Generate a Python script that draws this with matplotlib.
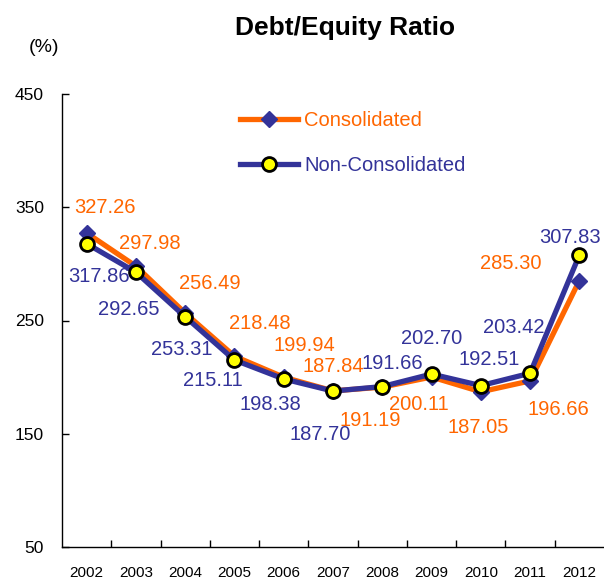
import matplotlib.pyplot as plt
from matplotlib.lines import Line2D

plt.rcParams['font.family'] = ['Liberation Sans', 'DejaVu Sans']

years = ['2002', '2003', '2004', '2005', '2006', '2007', '2008', '2009', '2010', '2011', '2012']
consolidated = [327.26, 297.98, 256.49, 218.48, 199.94, 187.84, 191.19, 200.11, 187.05, 196.66, 285.30]
non_consolidated = [317.86, 292.65, 253.31, 215.11, 198.38, 187.70, 191.66, 202.70, 192.51, 203.42, 307.83]

# label offsets in pixels (dx, dy), dy up
cons_off = [(18, 26), (14, 23), (25, 30), (25, 33), (21, 32), (0, 24),
            (-12, -33), (-13, -27), (-3, -36), (28, -29), (-69, 17)]
non_off = [(12, -33), (-7, -37), (-3, -33), (-22, -20), (-13, -26), (-13, -43),
           (10, 23), (0, 36), (8, 26), (-16, 46), (-9, 18)]

orange = '#FF6600'
blue = '#333399'
yellow = '#FFFF00'

fig = plt.figure(figsize=(6.04, 5.81), dpi=100)
ax = fig.add_axes([62 / 604, 1 - 547 / 581, 542 / 604, 453 / 581])

x = list(range(len(years)))
ax.plot(x, consolidated, color=orange, lw=3.8, zorder=2, solid_capstyle='round')
ax.plot(x, non_consolidated, color=blue, lw=3.8, zorder=3, solid_capstyle='round')
ax.plot(x, consolidated, 'D', color=blue, ms=8.5, mec=blue, zorder=4)
ax.plot(x, non_consolidated, 'o', color=yellow, ms=10, mec='black', mew=2, zorder=5)

for i in x:
    ax.annotate(f'{consolidated[i]:.2f}', (i, consolidated[i]), xytext=cons_off[i],
                textcoords='offset pixels', ha='center', va='center',
                color=orange, fontsize=14.5, zorder=6)
    ax.annotate(f'{non_consolidated[i]:.2f}', (i, non_consolidated[i]), xytext=non_off[i],
                textcoords='offset pixels', ha='center', va='center',
                color=blue, fontsize=14.5, zorder=6)

ax.set_xlim(-0.5, 10.5)
ax.set_ylim(50, 450)
ax.set_yticks([50, 150, 250, 350, 450])
ax.set_xticks(x)
ax.set_xticklabels(years)
ax.set_xticks([i + 0.5 for i in x[:-1]], minor=True)
ax.tick_params(axis='x', which='major', length=0, pad=14, labelsize=11)
ax.tick_params(axis='x', which='minor', direction='in', length=5, width=1)
ax.tick_params(axis='y', direction='in', length=5, width=1, pad=13, labelsize=12.5)
for s in ['top', 'right']:
    ax.spines[s].set_visible(False)
ax.spines['left'].set_linewidth(1)
ax.spines['bottom'].set_linewidth(1)

handles = [
    Line2D([], [], color=orange, lw=3.8, marker='D', mfc=blue, mec=blue, ms=8.5),
    Line2D([], [], color=blue, lw=3.8, marker='o', mfc=yellow, mec='black', mew=2, ms=10),
]
leg = ax.legend(handles, ['Consolidated', 'Non-Consolidated'], loc='upper left',
                bbox_to_anchor=(240 / 604, 1 - 111 / 581), bbox_transform=fig.transFigure,
                frameon=False, fontsize=14.5, handlelength=2.9, handletextpad=0.3,
                labelspacing=1.3, borderpad=0, borderaxespad=0,
                labelcolor=[orange, blue])

fig.text(345 / 604, 1 - 28 / 581, 'Debt/Equity Ratio', ha='center', va='center',
         fontsize=19, fontweight='bold')
fig.text(44 / 604, 1 - 47 / 581, '(%)', ha='center', va='center', fontsize=14)

fig.savefig('out.png', dpi=100)
